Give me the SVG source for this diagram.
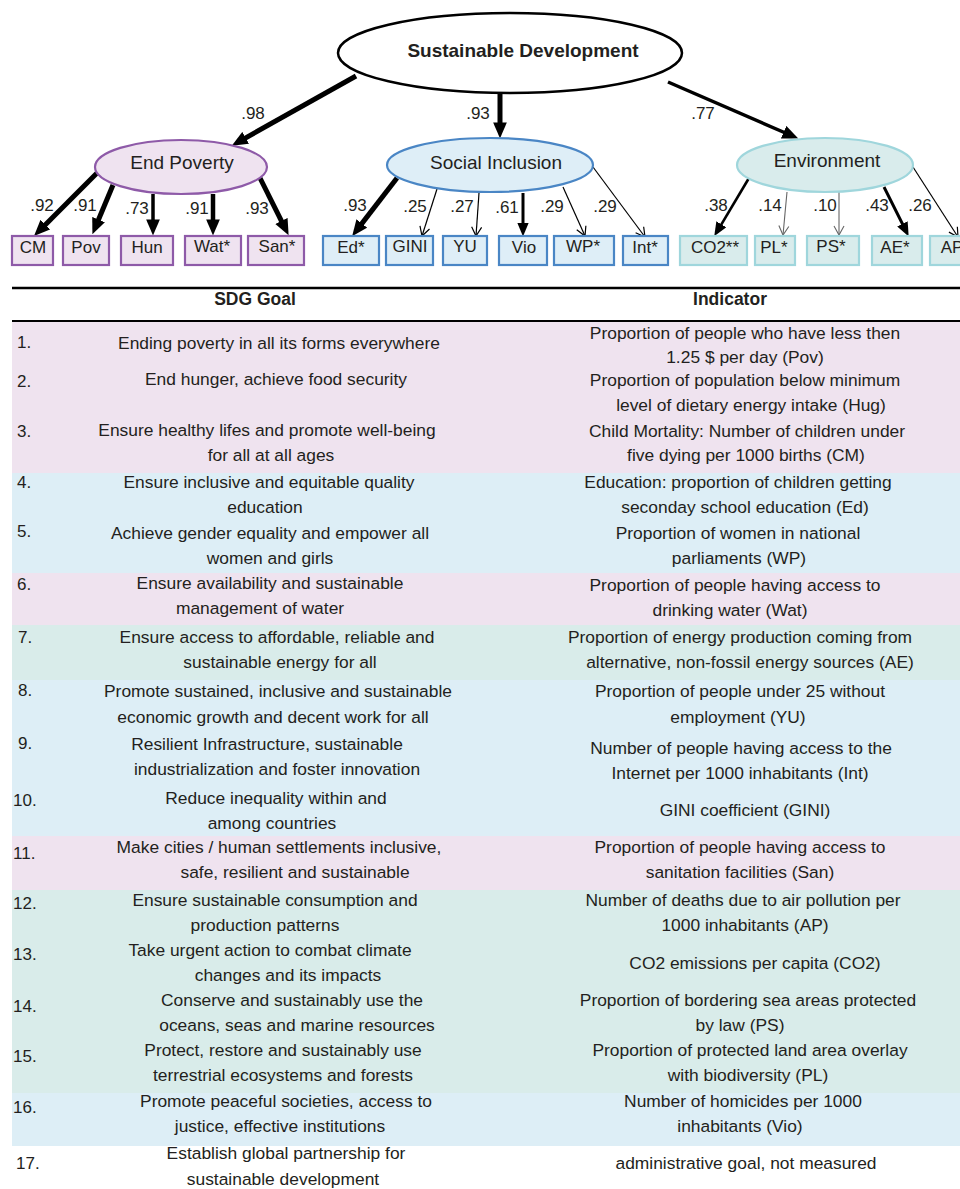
<svg xmlns="http://www.w3.org/2000/svg" width="960" height="1189" viewBox="0 0 960 1189">
<defs>
<style>
text{font-family:"Liberation Sans",Arial,Helvetica,sans-serif;fill:#231f20}
.lat{font-size:19px;text-anchor:middle}
.box{font-size:17px;text-anchor:middle}
.coef{font-size:17px;text-anchor:middle}
.t{font-size:17.4px;text-anchor:middle}
.n{font-size:17px}
.hd{font-size:17.5px;font-weight:bold;text-anchor:middle}
.ep{fill:#efe3f0;stroke:#8e5aa8;stroke-width:2.2}
.si{fill:#deeef7;stroke:#4a86c5;stroke-width:2.2}
.en{fill:#d9ecec;stroke:#9fd6dc;stroke-width:2.2}
.thick{stroke:#000;fill:none}
.thin{stroke:#000;stroke-width:1.2;fill:none;marker-end:url(#ao)}
.gray{stroke:#666;stroke-width:1.1;fill:none;marker-end:url(#aog)}
</style>
<marker id="ah" markerUnits="userSpaceOnUse" markerWidth="16" markerHeight="14" viewBox="0 0 14 12" refX="4" refY="6" orient="auto"><path d="M0,0 L14,6 L0,12 z" fill="#000"/></marker>
<marker id="ahm" markerUnits="userSpaceOnUse" markerWidth="14" markerHeight="12" viewBox="0 0 12 10" refX="3" refY="5" orient="auto"><path d="M0,0 L12,5 L0,10 z" fill="#000"/></marker>
<marker id="ao" markerUnits="userSpaceOnUse" markerWidth="12" markerHeight="12" viewBox="0 0 12 12" refX="10" refY="6" orient="auto"><path d="M1,1 L10,6 L1,11" fill="none" stroke="#000" stroke-width="1.2"/></marker>
<marker id="aog" markerUnits="userSpaceOnUse" markerWidth="12" markerHeight="12" viewBox="0 0 12 12" refX="10" refY="6" orient="auto"><path d="M1,1 L10,6 L1,11" fill="none" stroke="#666" stroke-width="1.1"/></marker>
</defs>
<rect width="960" height="1189" fill="#fff"/>

<g id="connectors">
<line class="thick" x1="356" y1="76" x2="241.7" y2="140.1" stroke-width="5" marker-end="url(#ah)"/>
<line class="thick" x1="500" y1="93" x2="500" y2="127" stroke-width="5" marker-end="url(#ah)"/>
<line class="thick" x1="668" y1="82" x2="787.8" y2="134" stroke-width="3.5" marker-end="url(#ah)"/>
<line class="thick" x1="98" y1="172" x2="42.1" y2="227.9" stroke-width="5" marker-end="url(#ah)"/>
<line class="thick" x1="113" y1="185" x2="96.8" y2="223.8" stroke-width="5" marker-end="url(#ah)"/>
<line class="thick" x1="153" y1="194" x2="153" y2="224" stroke-width="3.5" marker-end="url(#ah)"/>
<line class="thick" x1="213" y1="194" x2="213" y2="224" stroke-width="4.5" marker-end="url(#ah)"/>
<line class="thick" x1="260" y1="178" x2="283.5" y2="225.1" stroke-width="5" marker-end="url(#ah)"/>
<line class="thick" x1="397" y1="178" x2="359.1" y2="227.1" stroke-width="5" marker-end="url(#ah)"/>
<line class="thin" x1="437" y1="189" x2="422" y2="236"/>
<line class="thin" x1="479" y1="193" x2="476" y2="236"/>
<line class="thick" x1="523" y1="193" x2="523" y2="226" stroke-width="3" marker-end="url(#ahm)"/>
<line class="thin" x1="563" y1="187" x2="585" y2="236"/>
<line class="thin" x1="593" y1="167" x2="645" y2="237"/>
<line class="thick" x1="749" y1="178" x2="719.6" y2="227.3" stroke-width="2.6" marker-end="url(#ahm)"/>
<line class="gray" x1="787" y1="192" x2="783" y2="235"/>
<line class="gray" x1="839" y1="192" x2="839" y2="235"/>
<line class="thick" x1="884" y1="187" x2="904" y2="227" stroke-width="3" marker-end="url(#ahm)"/>
<line class="thin" x1="913" y1="167" x2="958" y2="237"/>
<text class="coef" x="253" y="119">.98</text>
<text class="coef" x="478" y="119">.93</text>
<text class="coef" x="703" y="119">.77</text>
<text class="coef" x="42" y="211">.92</text>
<text class="coef" x="85" y="211">.91</text>
<text class="coef" x="137" y="214">.73</text>
<text class="coef" x="197" y="214">.91</text>
<text class="coef" x="257" y="214">.93</text>
<text class="coef" x="355" y="211">.93</text>
<text class="coef" x="415" y="212">.25</text>
<text class="coef" x="462" y="212">.27</text>
<text class="coef" x="507" y="213">.61</text>
<text class="coef" x="552" y="212">.29</text>
<text class="coef" x="605" y="212">.29</text>
<text class="coef" x="716" y="211">.38</text>
<text class="coef" x="770" y="211">.14</text>
<text class="coef" x="825" y="211">.10</text>
<text class="coef" x="877" y="211">.43</text>
<text class="coef" x="920" y="211">.26</text>
</g>

<g id="sustainable-development">
<ellipse cx="510" cy="53" rx="172" ry="40" fill="#fff" stroke="#000" stroke-width="2.5"/>
<text x="523" y="57" font-size="19" font-weight="bold" text-anchor="middle">Sustainable Development</text>
</g>
<g id="end-poverty">
<ellipse class="ep" cx="181" cy="167" rx="86" ry="27"/>
<text class="lat" x="182" y="169">End Poverty</text>
</g>
<g id="social-inclusion">
<ellipse class="si" cx="490" cy="165" rx="103" ry="27"/>
<text class="lat" x="496" y="169">Social Inclusion</text>
</g>
<g id="environment">
<ellipse class="en" cx="825" cy="165" rx="88" ry="27"/>
<text class="lat" x="827" y="167">Environment</text>
</g>

<g id="box-CM"><rect class="ep" x="12" y="236" width="41" height="29"/><text class="box" x="33" y="253">CM</text></g>
<g id="box-Pov"><rect class="ep" x="63" y="236" width="46" height="29"/><text class="box" x="86" y="253">Pov</text></g>
<g id="box-Hun"><rect class="ep" x="121" y="236" width="52" height="29"/><text class="box" x="147" y="253">Hun</text></g>
<g id="box-Wat"><rect class="ep" x="185" y="236" width="56" height="29"/><text class="box" x="212" y="252">Wat*</text></g>
<g id="box-San"><rect class="ep" x="248" y="236" width="56" height="29"/><text class="box" x="277" y="252">San*</text></g>

<g id="box-Ed"><rect class="si" x="323" y="236" width="56" height="29"/><text class="box" x="351" y="253">Ed*</text></g>
<g id="box-GINI"><rect class="si" x="386" y="236" width="47" height="29"/><text class="box" x="410" y="252">GINI</text></g>
<g id="box-YU"><rect class="si" x="443" y="236" width="44" height="29"/><text class="box" x="465" y="252">YU</text></g>
<g id="box-Vio"><rect class="si" x="499" y="236" width="48" height="29"/><text class="box" x="524" y="253">Vio</text></g>
<g id="box-WP"><rect class="si" x="554" y="236" width="60" height="29"/><text class="box" x="583" y="252">WP*</text></g>
<g id="box-Int"><rect class="si" x="623" y="236" width="45" height="29"/><text class="box" x="645" y="253">Int*</text></g>

<g id="box-CO2"><rect class="en" x="680" y="236" width="67" height="29"/><text class="box" x="715" y="253">CO2**</text></g>
<g id="box-PL"><rect class="en" x="755" y="236" width="40" height="29"/><text class="box" x="774" y="253">PL*</text></g>
<g id="box-PS"><rect class="en" x="807" y="236" width="52" height="29"/><text class="box" x="831" y="252">PS*</text></g>
<g id="box-AE"><rect class="en" x="872" y="236" width="50" height="29"/><text class="box" x="895" y="253">AE*</text></g>
<g id="box-AP"><rect class="en" x="930" y="236" width="44" height="29"/><text class="box" x="952" y="253">AP</text></g>

<g id="table">
<rect x="12" y="322" width="948" height="151" fill="#efe3ef"/>
<rect x="12" y="473" width="948" height="100" fill="#ddeef6"/>
<rect x="12" y="573" width="948" height="52" fill="#efe3ef"/>
<rect x="12" y="625" width="948" height="55" fill="#d9ecea"/>
<rect x="12" y="680" width="948" height="156" fill="#ddeef6"/>
<rect x="12" y="836" width="948" height="54" fill="#efe3ef"/>
<rect x="12" y="890" width="948" height="203" fill="#d9ecea"/>
<rect x="12" y="1093" width="948" height="53" fill="#ddeef6"/>
<line x1="12" y1="288" x2="960" y2="288" stroke="#000" stroke-width="2.5"/>
<line x1="12" y1="321" x2="960" y2="321" stroke="#000" stroke-width="2"/>
<text class="hd" x="255" y="305">SDG Goal</text>
<text class="hd" x="730" y="305">Indicator</text>

<text class="n" x="17" y="348">1.</text>
<text class="t" x="279" y="349">Ending poverty in all its forms everywhere</text>
<text class="t" x="745" y="339">Proportion of people who have less then</text>
<text class="t" x="745" y="363">1.25 $ per day (Pov)</text>

<text class="n" x="17" y="387">2.</text>
<text class="t" x="276" y="385">End hunger, achieve food security</text>
<text class="t" x="745" y="386">Proportion of population below minimum</text>
<text class="t" x="751" y="411">level of dietary energy intake (Hug)</text>

<text class="n" x="17" y="437">3.</text>
<text class="t" x="267" y="436">Ensure healthy lifes and promote well-being</text>
<text class="t" x="271" y="461">for all at all ages</text>
<text class="t" x="747" y="437">Child Mortality: Number of children under</text>
<text class="t" x="746" y="461">five dying per 1000 births (CM)</text>

<text class="n" x="17" y="488">4.</text>
<text class="t" x="269" y="488">Ensure inclusive and equitable quality</text>
<text class="t" x="265" y="513">education</text>
<text class="t" x="738" y="488">Education: proportion of children getting</text>
<text class="t" x="745" y="513">seconday school education (Ed)</text>

<text class="n" x="17" y="537">5.</text>
<text class="t" x="270" y="539">Achieve gender equality and empower all</text>
<text class="t" x="270" y="564">women and girls</text>
<text class="t" x="738" y="539">Proportion of women in national</text>
<text class="t" x="739" y="564">parliaments (WP)</text>

<text class="n" x="17" y="590">6.</text>
<text class="t" x="270" y="589">Ensure availability and sustainable</text>
<text class="t" x="260" y="614">management of water</text>
<text class="t" x="735" y="591">Proportion of people having access to</text>
<text class="t" x="730" y="616">drinking water (Wat)</text>

<text class="n" x="18" y="643">7.</text>
<text class="t" x="277" y="643">Ensure access to affordable, reliable and</text>
<text class="t" x="280" y="668">sustainable energy for all</text>
<text class="t" x="740" y="643">Proportion of energy production coming from</text>
<text class="t" x="750" y="668">alternative, non-fossil energy sources (AE)</text>

<text class="n" x="18" y="696">8.</text>
<text class="t" x="278" y="697">Promote sustained, inclusive and sustainable</text>
<text class="t" x="273" y="723">economic growth and decent work for all</text>
<text class="t" x="740" y="697">Proportion of people under 25 without</text>
<text class="t" x="738" y="723">employment (YU)</text>

<text class="n" x="18" y="749">9.</text>
<text class="t" x="267" y="750">Resilient Infrastructure, sustainable</text>
<text class="t" x="277" y="775">industrialization and foster innovation</text>
<text class="t" x="741" y="754">Number of people having access to the</text>
<text class="t" x="740" y="779">Internet per 1000 inhabitants (Int)</text>

<text class="n" x="13" y="806">10.</text>
<text class="t" x="276" y="804">Reduce inequality within and</text>
<text class="t" x="272" y="829">among countries</text>
<text class="t" x="745" y="816">GINI coefficient (GINI)</text>

<text class="n" x="13" y="859">11.</text>
<text class="t" x="279" y="853">Make cities / human settlements inclusive,</text>
<text class="t" x="295" y="878">safe, resilient and sustainable</text>
<text class="t" x="740" y="853">Proportion of people having access to</text>
<text class="t" x="740" y="878">sanitation facilities (San)</text>

<text class="n" x="13" y="909">12.</text>
<text class="t" x="275" y="906">Ensure sustainable consumption and</text>
<text class="t" x="265" y="931">production patterns</text>
<text class="t" x="743" y="906">Number of deaths due to air pollution per</text>
<text class="t" x="745" y="931">1000 inhabitants (AP)</text>

<text class="n" x="13" y="960">13.</text>
<text class="t" x="270" y="956">Take urgent action to combat climate</text>
<text class="t" x="288" y="981">changes and its impacts</text>
<text class="t" x="755" y="969">CO2 emissions per capita (CO2)</text>

<text class="n" x="13" y="1012">14.</text>
<text class="t" x="292" y="1006">Conserve and sustainably use the</text>
<text class="t" x="297" y="1031">oceans, seas and marine resources</text>
<text class="t" x="748" y="1006">Proportion of bordering sea areas protected</text>
<text class="t" x="740" y="1031">by law (PS)</text>

<text class="n" x="13" y="1062">15.</text>
<text class="t" x="283" y="1056">Protect, restore and sustainably use</text>
<text class="t" x="283" y="1081">terrestrial ecosystems and forests</text>
<text class="t" x="750" y="1056">Proportion of protected land area overlay</text>
<text class="t" x="748" y="1081">with biodiversity (PL)</text>

<text class="n" x="13" y="1113">16.</text>
<text class="t" x="286" y="1107">Promote peaceful societies, access to</text>
<text class="t" x="280" y="1132">justice, effective institutions</text>
<text class="t" x="743" y="1107">Number of homicides per 1000</text>
<text class="t" x="740" y="1132">inhabitants (Vio)</text>

<text class="n" x="16" y="1169">17.</text>
<text class="t" x="286" y="1159">Establish global partnership for</text>
<text class="t" x="283" y="1185">sustainable development</text>
<text class="t" x="746" y="1169">administrative goal, not measured</text>
</g>
</svg>
